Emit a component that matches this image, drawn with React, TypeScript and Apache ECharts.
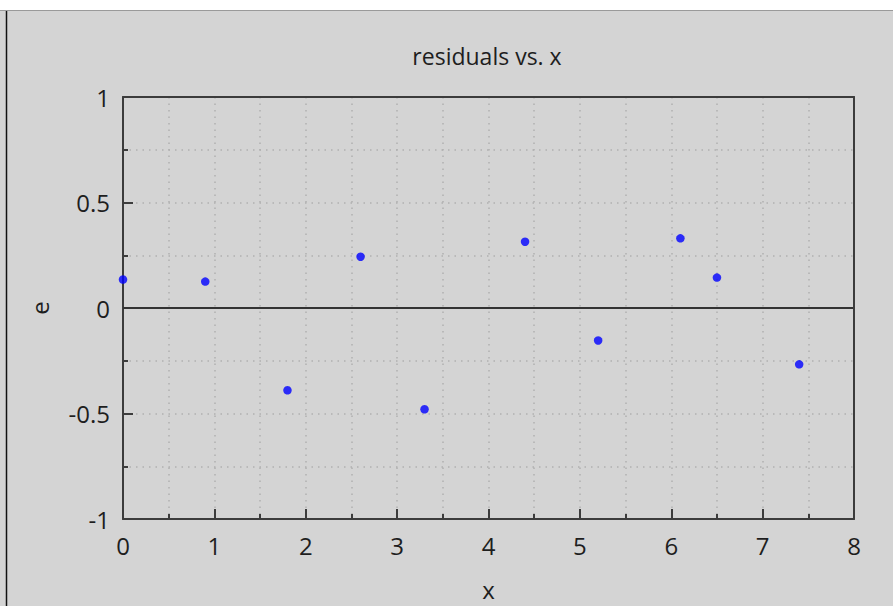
import React, { useEffect, useRef } from "react";
import * as echarts from "echarts";

// Observations: predictor x and residual e
const xValues = [0, 0.9, 1.8, 2.6, 3.3, 4.4, 5.2, 6.1, 6.5, 7.4];
const residuals = [0.135, 0.125, -0.39, 0.243, -0.48, 0.314, -0.154, 0.33, 0.144, -0.267];

const titleText = "residuals vs. x";
const xName = "x";
const yName = "e";

const FONT = "Open Sans";
const TEXT = "#1e1e1e";
const FRAME = "#3c3c3c";
const GRID = "#b0b0b0";

const dotted = { color: GRID, type: [1.5, 5], width: 1.5 };

// Top and right sides of the frame, drawn as bare axes above the grid lines
const frameAxis = {
  type: "value",
  z: 10,
  axisLine: { show: true, onZero: false, lineStyle: { color: FRAME, width: 2 } },
  axisTick: { show: false },
  axisLabel: { show: false },
  splitLine: { show: false },
};

export default function App() {
  const ref = useRef<HTMLDivElement>(null);

  useEffect(() => {
    document.body.style.margin = "0";
    const chart = echarts.init(ref.current!, null, { renderer: "svg" });
    const points = xValues.map((x, i) => [x, residuals[i]]);

    chart.setOption({
      animation: false,
      backgroundColor: "#d4d4d4",
      textStyle: { fontFamily: FONT },
      title: {
        text: titleText,
        left: 482,
        top: 39,
        textAlign: "center",
        textStyle: { fontFamily: FONT, fontSize: 23, fontWeight: "normal", color: TEXT },
      },
      graphic: [
        { type: "rect", shape: { x: 0, y: 0, width: 893, height: 10 }, style: { fill: "#ffffff" }, silent: true },
        { type: "line", shape: { x1: 0, y1: 10.5, x2: 893, y2: 10.5 }, style: { stroke: "#9a9a9a", lineWidth: 1 }, silent: true },
        { type: "line", shape: { x1: 6.5, y1: 11, x2: 6.5, y2: 606 }, style: { stroke: "#111", lineWidth: 1.5 }, silent: true },
      ],
      grid: {
        left: 123,
        top: 97,
        width: 731,
        height: 423,
        show: false,
      },
      xAxis: [
        {
          type: "value",
          min: 0,
          max: 8,
          interval: 1,
          name: xName,
          nameLocation: "middle",
          nameGap: 58,
          nameTextStyle: { fontFamily: FONT, fontSize: 24, color: TEXT },
          axisLine: { show: true, onZero: false, lineStyle: { color: FRAME, width: 2 } },
          axisTick: { show: true, inside: true, length: 10, lineStyle: { color: FRAME, width: 2 } },
          minorTick: { show: true, splitNumber: 2, length: 5, lineStyle: { color: FRAME, width: 2 } },
          axisLabel: { fontFamily: FONT, fontSize: 24, color: TEXT, margin: 14 },
          splitLine: { show: true, lineStyle: dotted },
          minorSplitLine: { show: true, lineStyle: dotted },
        },
        { ...frameAxis, position: "top", min: 0, max: 8 },
      ],
      yAxis: [
        {
          type: "value",
          min: -1,
          max: 1,
          interval: 0.5,
          name: yName,
          nameLocation: "middle",
          nameGap: 72,
          nameTextStyle: { fontFamily: FONT, fontSize: 24, color: TEXT },
          axisLine: { show: true, onZero: false, lineStyle: { color: FRAME, width: 2 } },
          axisTick: { show: true, inside: true, length: 10, lineStyle: { color: FRAME, width: 2 } },
          minorTick: { show: true, splitNumber: 2, length: 5, lineStyle: { color: FRAME, width: 2 } },
          axisLabel: { fontFamily: FONT, fontSize: 24, color: TEXT, margin: 13 },
          splitLine: { show: true, lineStyle: dotted },
          minorSplitLine: { show: true, lineStyle: dotted },
        },
        { ...frameAxis, position: "right", min: -1, max: 1 },
      ],
      series: [
        {
          type: "scatter",
          data: points,
          symbol: "circle",
          symbolSize: 8.5,
          itemStyle: { color: "#0000ff" },
          clip: false,
          z: 5,
          markLine: {
            silent: true,
            symbol: "none",
            label: { show: false },
            lineStyle: { color: "#333", width: 2, type: "solid" },
            data: [{ yAxis: 0 }],
          },
        },
      ],
    });

    return () => chart.dispose();
  }, []);

  return <div ref={ref} style={{ width: 893, height: 606 }} />;
}
